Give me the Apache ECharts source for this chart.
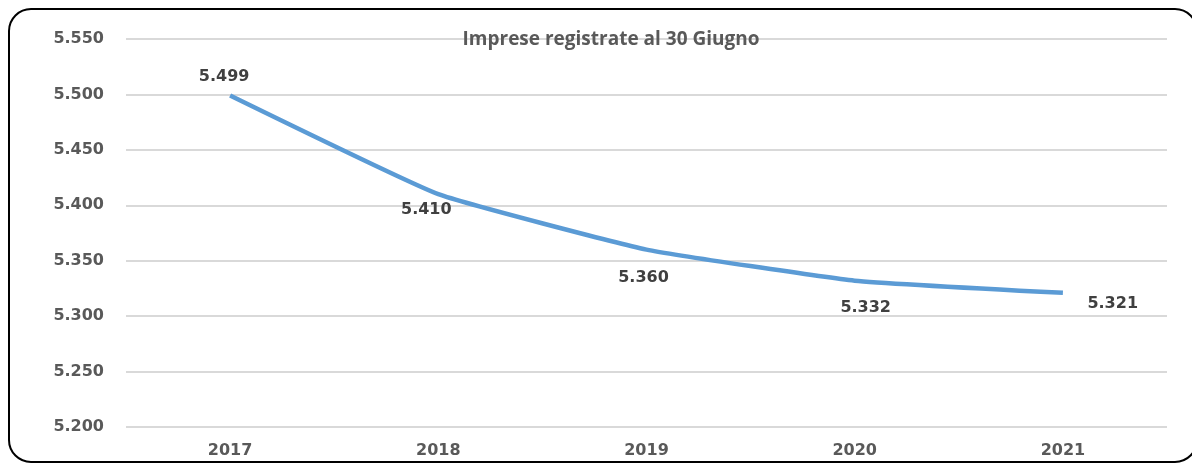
<!DOCTYPE html>
<html><head><meta charset="utf-8">
<script src="https://cdn.jsdelivr.net/npm/echarts@6/dist/echarts.min.js"></script>
<style>html,body{margin:0;padding:0;background:#fff}#c{width:1192px;height:463px}</style>
</head><body><div id="c"></div>
<script>
const title = 'Imprese registrate al 30 Giugno';
const years = ['2017','2018','2019','2020','2021'];
const imprese = [5499, 5410, 5360, 5332, 5321];
const yMin = 5200, yMax = 5550, yStep = 50;

function fmt(v){ return String(v).replace(/\B(?=(\d{3})+(?!\d))/g, '.'); }

const labelStyles = [
  {position:'top', offset:[-6,-5]},
  {position:'bottom', offset:[-12,2]},
  {position:'bottom', offset:[-3,15]},
  {position:'bottom', offset:[11,14]},
  {position:'right', offset:[19,11]}
];

const chart = echarts.init(document.getElementById('c'));
chart.setOption({
  animation:false,
  title:{text:title, left:606, top:25, textAlign:'center',
    textStyle:{fontFamily:'Open Sans', fontWeight:'bold', fontSize:19, color:'#595959'}},
  graphic:[{type:'rect', shape:{x:9, y:9, width:1188, height:453, r:22},
    style:{fill:'none', stroke:'#000', lineWidth:2}, z:-1}],
  grid:{left:126, right:25, top:39, bottom:36},
  xAxis:{type:'category', data:years, boundaryGap:true,
    axisLine:{show:false}, axisTick:{show:false},
    axisLabel:{fontFamily:'DejaVu Sans', fontWeight:'bold', fontSize:16, color:'#595959', margin:16}},
  yAxis:{type:'value', min:yMin, max:yMax, interval:yStep,
    axisLine:{show:false}, axisTick:{show:false},
    splitLine:{lineStyle:{color:'#d9d9d9', width:2}},
    axisLabel:{fontFamily:'DejaVu Sans', fontWeight:'bold', fontSize:16, color:'#595959', margin:22,
      formatter:v=>fmt(v)}},
  series:[{type:'line', smooth:0.12, symbol:'circle', symbolSize:1, showSymbol:true,
    itemStyle:{color:'rgba(0,0,0,0)'},
    lineStyle:{color:'#5B9BD5', width:4.5},
    data: imprese.map((v,i)=>({value:v, label:Object.assign({show:true,
      fontFamily:'DejaVu Sans', fontWeight:'bold', fontSize:16, color:'#404040',
      formatter:p=>fmt(p.value)}, labelStyles[i])}))}]
});
</script></body></html>
